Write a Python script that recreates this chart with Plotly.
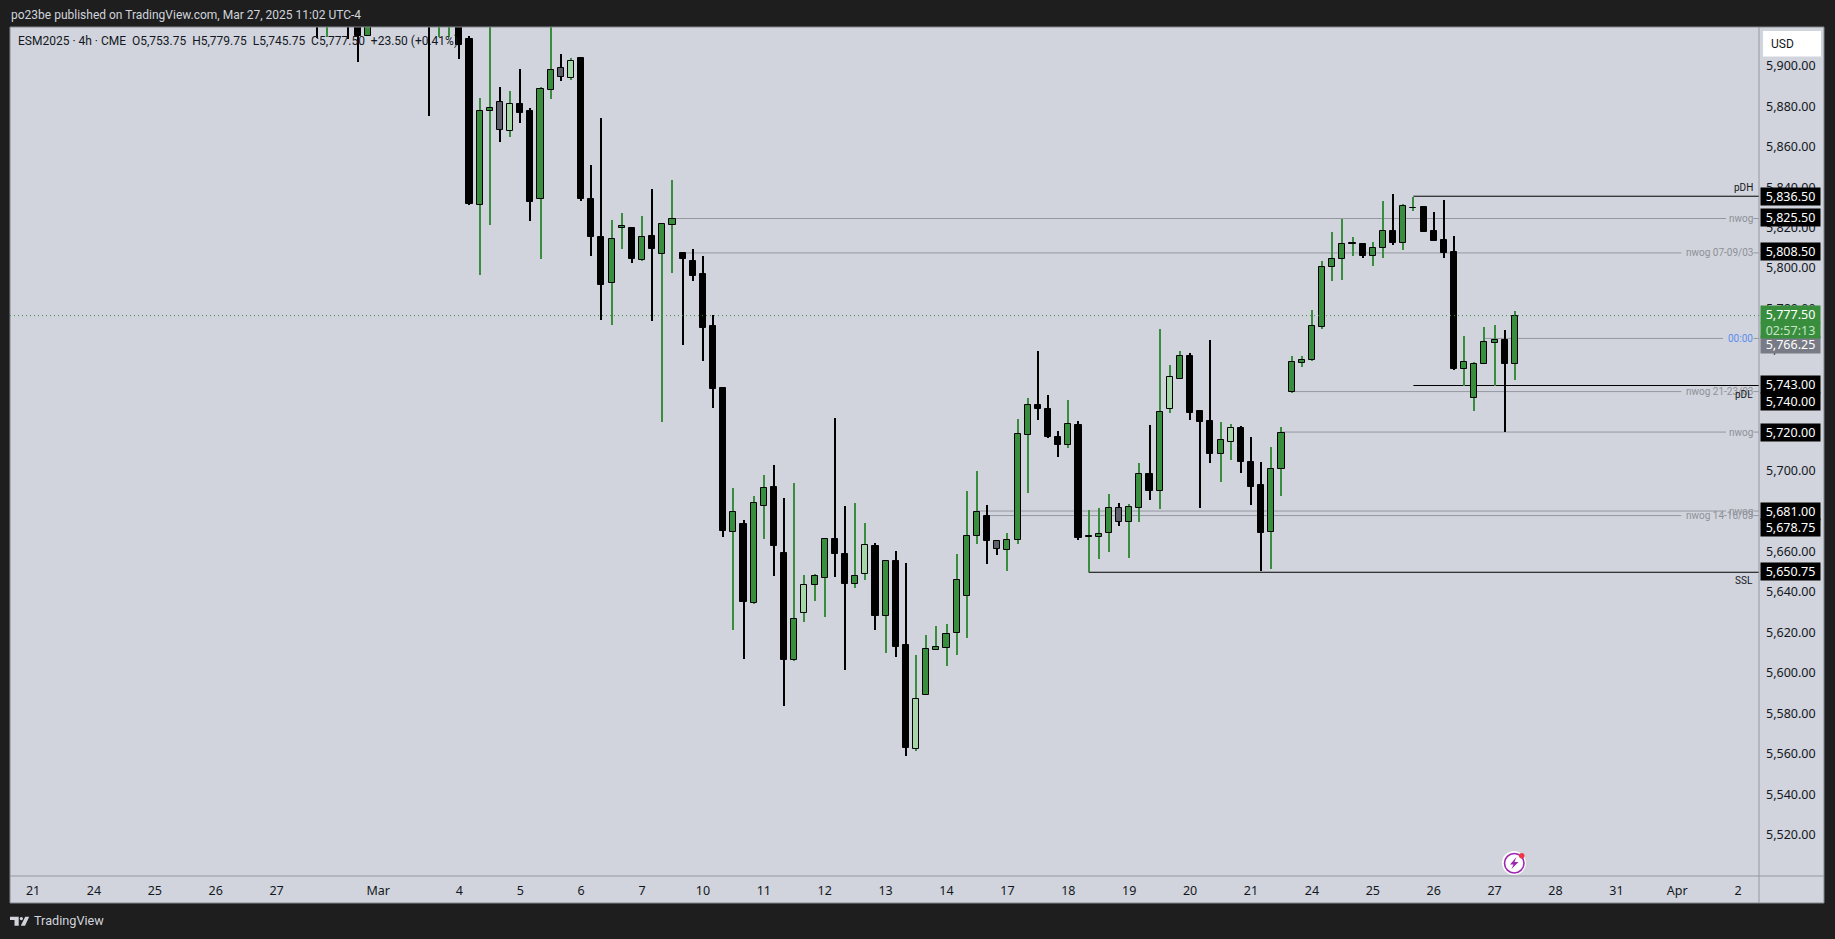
import plotly.graph_objects as go

# ---- data -------------------------------------------------------------
bar_index = [28,29,31,32,33,39,40,41,42,43,44,45,46,47,48,49,50,51,52,53,54,55,56,57,58,59,60,61,62,63,
             64,65,66,67,68,69,70,71,72,73,74,75,76,77,78,79,80,81,82,83,84,85,86,87,88,89,90,91,92,93,
             94,95,96,97,98,99,100,101,102,103,104,105,106,107,108,109,110,111,112,113,114,115,116,117,118,119,120,121,122,123,
             124,125,126,127,128,129,130,131,132,133,134,135,136,137,138,139,140,141,142,143,144,145,146]
opens = [5935,5925,5950,5935,5915.5,5945,5925,5930,5935,5914.25,5832.25,5878.5,5883,5868.75,5882,5878.5,5835.25,5889,5900,5894.75,5905,5835.25,5816.5,5793.75,5820.75,5821,5805,5817,5808,5822.5,
         5808.5,5804.75,5798,5772.25,5741.75,5670.75,5674.5,5635.75,5683.5,5692.75,5660.25,5607.5,5630.75,5644.25,5648,5667.25,5659.75,5645,5650,5663.75,5629,5656.25,5615,5563.25,5590,5612.5,5613.5,5620.5,5639.25,5668.75,
         5678.75,5666,5661.5,5666.5,5718.5,5733.5,5731.5,5717.75,5713.75,5723.25,5668.5,5668.25,5670.25,5682.25,5675.75,5682.5,5699.5,5691,5731.5,5746.25,5757.75,5730.25,5725.25,5709.25,5715.25,5722.25,5705,5693.75,5670.75,5701.75,
         5740,5754.25,5755.75,5772,5801.5,5805.5,5813.5,5813,5807,5811,5819.5,5813.5,5830.75,5831,5819.5,5814.75,5808.75,5751.25,5736.75,5753.75,5764,5765.5,5753.75]
highs = [5945,5940,5955,5940,5935,5950,5945,5950,5940,5915.75,5885,5925,5890.5,5888.25,5899.5,5880,5890.25,5925,5907,5905,5905,5851.75,5875.25,5825,5828,5821.5,5826.5,5840.25,5823,5844.5,
         5808.5,5810.5,5806.75,5778,5741.75,5692.25,5676.5,5688.5,5698.75,5703.75,5687.5,5694.75,5649.5,5649.75,5667,5727,5683.5,5685,5675,5665.25,5656.75,5661.25,5655.25,5610,5619.75,5624.25,5625.25,5659.75,5690.75,5700.75,
         5684,5666.75,5670,5726.5,5736.75,5760,5738.25,5720.5,5735.75,5725.5,5681.5,5682.5,5689.5,5685,5684.5,5704.75,5723.5,5770.75,5753,5760,5759,5730.75,5765.25,5725,5724,5723,5717.5,5705.25,5712.5,5722.5,
         5757.5,5757.75,5780.5,5804.75,5819,5825.5,5816.25,5813,5813.75,5834,5837.5,5832.5,5836.25,5831.5,5828.5,5834.5,5817,5767.25,5754.75,5771.75,5772.75,5770.25,5779.75]
lows = [5914.75,5915,5914,5902.75,5915.5,5876.25,5915,5915,5904.5,5832,5797.5,5822.5,5863.25,5865.75,5872.5,5824.5,5805.5,5884.5,5893.25,5893.75,5834,5807,5775.5,5773,5810.25,5803.5,5804.5,5775,5725,5798.5,
        5763,5794.5,5755.25,5732,5668,5622.25,5608,5635,5667.25,5649,5584.75,5606.75,5626.25,5636.5,5628.75,5648.5,5602.25,5643,5647,5622.25,5611,5609,5560,5562.5,5590,5612.5,5604.5,5610,5618.25,5664.75,
        5654.75,5659.25,5651.5,5664.75,5690,5726,5717,5707.5,5712,5666.75,5650.75,5657.25,5660.75,5673.5,5657.75,5675.5,5686.5,5682,5729.25,5746.25,5726,5682.5,5704.75,5695.25,5706,5699.75,5684,5651.5,5652.5,5688.5,
        5739.25,5752,5755.25,5771,5794.5,5795,5806.75,5806,5802.25,5805.75,5812.25,5809.75,5829,5819,5814.25,5805.75,5750.5,5743,5730.25,5753.75,5743,5720,5745.75]
closes = [5925,5935,5930,5915.75,5930,5930,5940,5945,5911,5832.5,5878.5,5880,5869.25,5882,5877.5,5833.5,5889.5,5899,5895.25,5903.25,5835,5816.25,5792.75,5815.5,5822,5805.5,5816.5,5810.5,5823,5825.5,
          5805.5,5797,5771.5,5741.5,5671.25,5680.75,5636,5684.75,5692.25,5663.75,5607.5,5627.5,5644.25,5648.75,5667,5660,5645,5648.75,5664,5629,5656.25,5614,5563.75,5588,5612.75,5613.75,5620.25,5646.75,5668.5,5680.75,
          5666,5662,5666.5,5719.25,5733.5,5731.25,5717.5,5713.5,5723.75,5667.75,5668.25,5669.5,5682.25,5675.75,5682.75,5699.5,5691,5729.75,5747,5757.75,5729.5,5725,5709.25,5716.25,5722.25,5705.25,5693,5670.25,5702,5719.75,
          5754.75,5755.75,5772.5,5801.75,5805.5,5813,5813,5806.75,5811,5819.25,5813.25,5831.75,5830.5,5819,5814.25,5808.25,5751,5754.75,5753.75,5764.25,5765.25,5753.75,5777.5]
dark = {28,31,32,39,42,43,46,48,49,52,54,55,56,59,61,64,65,66,67,68,70,73,74,79,80,83,85,86,94,95,99,100,101,103,107,110,114,115,116,119,120,121,131,134,137,138,139,140,145}
grey = {46,52,95,107}
light = {47,53,76,82,87,112,118}
doji = {104,130,136}

month_ticks = [0,6,12,18,24,34,42,48,54,60,66,72,78,84,90,96,102,108,114,120,126,132,138,144,150,156,162,168]
month_text = ["21","24","25","26","27","Mar","4","5","6","7","10","11","12","13","14","17","18","19","20","21","24","25","26","27","28","31","Apr","2"]
price_ticks = [5520,5540,5560,5580,5600,5620,5640,5660,5680,5700,5720,5740,5760,5780,5800,5820,5840,5860,5880,5900]

level_prices = [5825.5,5808.5,5766.25,5740,5720,5681,5678.75]
level_starts = [63,64,143,124,123,93,94]
level_labels = ["nwog","nwog 07-09/03","00:00","nwog 21-23/03","nwog","nwog","nwog 14-16/03"]
level_gaps = [166.8,162.4,166.5,162.4,166.8,166.8,162.4]
key_prices = [5836.5,5743,5650.75]
key_starts = [136,136,104]
key_labels = ["pDH","pDL","SSL"]
key_shifts = [8.5,-8.5,-8.5]
badge_prices = [5836.5,5825.5,5808.5,5743,5740,5720,5681,5678.75,5650.75]
badge_shifts = [0,1,1,1,-10,0,0,-12,0.5]

last_price = 5777.5
# ---- style ------------------------------------------------------------
BG = "#d1d4dc"; DARK = "#1e1e1e"; GREEN = "#388e3c"; LIGHT = "#a5d6a7"; GREY = "#5d606b"
EDGE = "#9598a1"; TXT = "#131722"; FONT = "Noto Sans"; NARROW = "Roboto"
L, R, T, B = 10, 1759, 27, 876
xmin, xmax = -2.27, 170.05
ymin, ymax = 5500.7, 5920.1
px = lambda x: (x - L) / (R - L)
py = lambda y: 1 - (y - T) / (B - T)

fig = go.Figure()

# wicks
for colour, pick in ((GREEN, lambda i: i not in dark), ("#000000", lambda i: i in dark)):
    sel = [k for k, i in enumerate(bar_index) if pick(i)]
    fig.add_bar(x=[bar_index[k] for k in sel], base=[lows[k] for k in sel],
                y=[highs[k] - lows[k] for k in sel], width=0.1,
                marker=dict(color=colour, line=dict(width=0)), hoverinfo="skip")
# bodies
groups = [("#000000", lambda i: (i in dark and i not in grey) or i in doji),
          (GREY, lambda i: i in grey),
          (LIGHT, lambda i: i in light),
          (GREEN, lambda i: i not in dark and i not in light and i not in doji)]
for colour, pick in groups:
    sel = [k for k, i in enumerate(bar_index) if pick(i)]
    fig.add_bar(x=[bar_index[k] for k in sel], base=[min(opens[k], closes[k]) for k in sel],
                y=[abs(opens[k] - closes[k]) for k in sel], width=0.6,
                marker=dict(color=colour, line=dict(color="#000000", width=1)), hoverinfo="skip")
# current price line
fig.add_scatter(x=[xmin, xmax], y=[last_price, last_price], mode="lines",
                line=dict(color=GREEN, width=1, dash="1px,3px"), hoverinfo="skip")

shapes = []
def hline(x0, x1, y, colour):
    shapes.append(dict(type="line", xref="x", yref="y", x0=x0, x1=x1, y0=y, y1=y,
                       line=dict(color=colour, width=1), layer="below"))
for p, s, g in zip(level_prices, level_starts, level_gaps):
    hline(s, g, p, EDGE)
    hline(169.5, xmax, p, EDGE)
for p, s in zip(key_prices, key_starts):
    hline(s, xmax, p, "#000000")

def prect(x0, y0, x1, y1, fill, line=None, layer="above", kind="rect"):
    shapes.append(dict(type=kind, xref="paper", yref="paper", x0=px(x0), x1=px(x1), y0=py(y0), y1=py(y1),
                       fillcolor=fill, line=dict(color=line or fill, width=1 if line else 0), layer=layer))
def ppath(pts, fill):
    d = "M" + " L".join(f"{px(x):.6f},{py(y):.6f}" for x, y in pts) + " Z"
    shapes.append(dict(type="path", xref="paper", yref="paper", path=d, fillcolor=fill, line=dict(width=0)))

# axis panels & frame
prect(R, T, 1824, 903, BG, layer="below")
prect(L, B, R, 903, BG, layer="below")
prect(L, T, 1824, 903, "rgba(0,0,0,0)", line="#85878d")
shapes.append(dict(type="line", xref="paper", yref="paper", x0=px(R), x1=px(R), y0=py(T), y1=py(903), line=dict(color=EDGE, width=1)))
shapes.append(dict(type="line", xref="paper", yref="paper", x0=px(L), x1=px(1824), y0=py(B), y1=py(B), line=dict(color=EDGE, width=1)))
# USD button
prect(1763, 31, 1821, 56.5, "#ffffff")
# TradingView logo
ppath([(10,916.7),(18.7,916.7),(18.7,925.7),(14.5,925.7),(14.5,920),(10,920)], BG)
ppath([(25.2,916.7),(29.2,916.7),(25,925.7),(20.8,925.7)], BG)
prect(19.7, 916.9, 23, 920.2, BG, kind="circle")
# bolt icon
prect(1502, 851, 1526, 875, "#ffffff", kind="circle")
shapes.append(dict(type="circle", xref="paper", yref="paper", x0=px(1504.5), x1=px(1524), y0=py(853.5), y1=py(873),
                   fillcolor="#ffffff", line=dict(color="#9c27b0", width=1.6)))
ppath([(1516.5,857),(1510,864.5),(1513.5,864.5),(1511.5,869),(1518.5,862),(1514.5,862)], "#9c27b0")
prect(1519, 853, 1524.5, 858.5, "#f23645", kind="circle")

ann = []
def text_px(x, y, s, colour, size=13, anchor="left", fam=NARROW):
    ann.append(dict(xref="paper", yref="paper", x=px(x), y=py(y), text=s, showarrow=False, xanchor=anchor,
                    yanchor="middle", borderpad=0, font=dict(family=fam, size=size, color=colour)))
def badge(p, s, fill, colour="#ffffff", shift=0, h=17):
    ann.append(dict(xref="paper", yref="y", x=px(1760), y=p, yshift=shift, text=s, showarrow=False, xanchor="left",
                    yanchor="middle", width=59, height=h, align="center", valign="middle", bgcolor=fill,
                    borderpad=0, font=dict(family=FONT, size=12.5, color=colour)))

text_px(10, 15, "po23be published on TradingView.com, Mar 27, 2025 11:02 UTC-4", BG, 12)
text_px(17, 41, "ESM2025 · 4h · CME  O5,753.75  H5,779.75  L5,745.75  C5,777.50  +23.50 (+0.41%)", TXT, 12)
text_px(33, 920.7, "TradingView", BG, 12.7)
text_px(1770, 44, "USD", TXT, 12)

for p, s, lab in zip(level_prices, level_gaps, level_labels):
    ann.append(dict(xref="x", yref="y", x=169.55, y=p, text=lab, showarrow=False, xanchor="right", yanchor="middle",
                    borderpad=0, font=dict(family=NARROW, size=10, color="#5b8def" if lab == "00:00" else "#8d9098")))
for p, lab, sh in zip(key_prices, key_labels, key_shifts):
    ann.append(dict(xref="x", yref="y", x=169.55, y=p, yshift=sh, text=lab, showarrow=False, xanchor="right", yanchor="middle",
                    borderpad=0, font=dict(family=NARROW, size=10, color=TXT)))
for p, sh in zip(badge_prices, badge_shifts):
    badge(p, f"{p:,.2f}", "#000000", shift=sh)
badge(5766.25, "5,766.25", "#787b86", shift=-6)
badge(last_price, "5,777.50", GREEN, shift=1)
badge(last_price, "02:57:13", GREEN, colour="#c5e4c7", shift=-14.5, h=15)

fig.update_layout(
    width=1835, height=939, margin=dict(l=L, r=1835 - R, t=T, b=939 - B),
    paper_bgcolor=DARK, plot_bgcolor=BG, barmode="overlay", bargap=0, showlegend=False,
    hovermode=False, shapes=shapes, annotations=ann,
    xaxis=dict(range=[xmin, xmax], tickmode="array", tickvals=month_ticks, ticktext=month_text, showgrid=False,
               zeroline=False, ticks="", ticklabelstandoff=5, tickangle=0, showline=False,
               tickfont=dict(family=FONT, size=12.5, color=TXT), fixedrange=True),
    yaxis=dict(range=[ymin, ymax], side="right", tickmode="array", tickvals=price_ticks,
               ticktext=[f"{v:,.2f}" for v in price_ticks], showgrid=False, zeroline=False, ticks="",
               ticklabelstandoff=6, ticklabelshift=-2, showline=False,
               tickfont=dict(family=FONT, size=12.5, color=TXT), fixedrange=True),
)
fig.write_html("out.html", config=dict(displayModeBar=False),
               post_script="document.body.style.margin='0';document.body.style.overflow='hidden';")
